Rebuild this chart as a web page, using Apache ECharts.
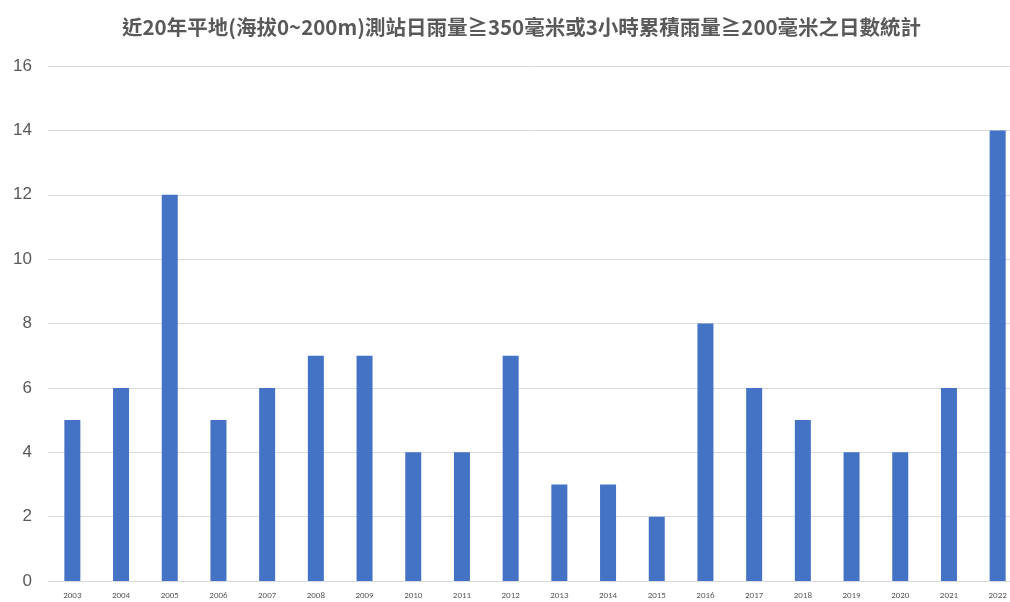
<!DOCTYPE html>
<html>
<head>
<meta charset="utf-8">
<script src="https://cdn.jsdelivr.net/npm/echarts@6/dist/echarts.min.js"></script>
<style>
  html, body { margin: 0; padding: 0; background: #fff; }
  #chart { width: 1010px; height: 602px; }
</style>
</head>
<body>
<div id="chart"></div>
<script>
// 年份與日數
const years = ['2003', '2004', '2005', '2006', '2007', '2008', '2009', '2010', '2011', '2012',
  '2013', '2014', '2015', '2016', '2017', '2018', '2019', '2020', '2021', '2022']
const dayCounts = [5, 6, 12, 5, 6, 7, 7, 4, 4, 7, 3, 3, 2, 8, 6, 5, 4, 4, 6, 14]
const titleText = '近20年平地(海拔0~200m)測站日雨量≧350毫米或3小時累積雨量≧200毫米之日數統計'

let myChart = echarts.init(document.getElementById('chart'))
let option = {
  animation: false,
  title: {
    text: titleText,
    left: 117,
    top: 12,
    textStyle: {
      color: '#595959',
      fontSize: 20.5,
      fontWeight: 'bold',
      fontFamily: '"Noto Sans CJK TC", sans-serif'
    }
  },
  grid: {
    left: 48,
    top: 66,
    right: -12,
    bottom: 21,
    outerBoundsMode: 'none'
  },
  xAxis: {
    type: 'category',
    data: years,
    axisLine: { lineStyle: { color: '#d9d9d9', width: 1 } },
    axisTick: { show: false },
    axisLabel: {
      color: '#595959',
      fontSize: 9,
      margin: 10,
      fontFamily: 'Calibri, "Liberation Sans", sans-serif'
    }
  },
  yAxis: {
    type: 'value',
    min: 0,
    max: 16,
    interval: 2,
    axisLine: { show: false },
    axisTick: { show: false },
    axisLabel: {
      color: '#595959',
      fontSize: 17,
      margin: 16,
      fontFamily: '"Liberation Sans", sans-serif'
    },
    splitLine: { lineStyle: { color: '#d9d9d9', width: 1 } }
  },
  series: [
    {
      type: 'bar',
      data: dayCounts,
      barWidth: 16,
      itemStyle: { color: '#4472c4' }
    }
  ]
}
myChart.setOption(option)
</script>
</body>
</html>
